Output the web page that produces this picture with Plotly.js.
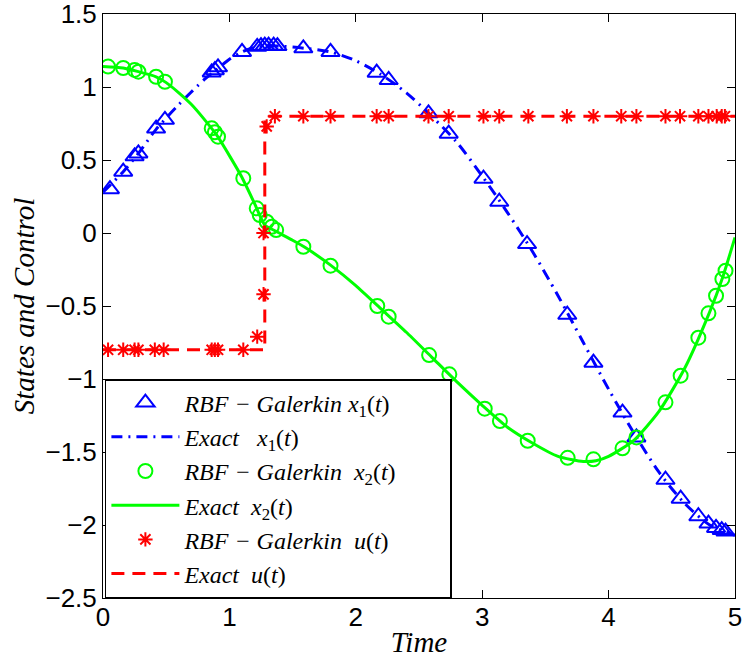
<!DOCTYPE html>
<html>
<head>
<meta charset="utf-8">
<script src="https://cdn.plot.ly/plotly-3.0.1.min.js"></script>
<style>html,body{margin:0;padding:0;background:#fff;}#chart{width:744px;height:664px;}</style>
</head>
<body>
<div id="chart"></div>
<script>
// RBF-Galerkin x1(t) samples
const tX1 = [0.055,0.16,0.25,0.28,0.42,0.49,0.86,0.885,0.91,1.10,1.22,1.25,1.28,1.31,1.35,1.38,1.585,1.80,2.165,2.26,2.575,2.735,3.01,3.135,3.355,3.673,3.88,4.11,4.22,4.45,4.57,4.71,4.79,4.85,4.895,4.925];
const vX1 = [0.30,0.42,0.525,0.545,0.715,0.775,1.10,1.115,1.135,1.24,1.275,1.28,1.283,1.283,1.283,1.28,1.265,1.24,1.098,1.048,0.82,0.68,0.372,0.214,-0.076,-0.56,-0.888,-1.23,-1.40,-1.69,-1.82,-1.94,-1.99,-2.02,-2.035,-2.045];
// Exact x1(t)
const tX1e = [0,0.16,0.28,0.42,0.6,0.8,0.9,1.0,1.1,1.2,1.3,1.4,1.6,1.8,2.0,2.2,2.4,2.6,2.8,3.0,3.2,3.4,3.6,3.8,4.0,4.2,4.4,4.6,4.8,5.0];
const vX1e = [0.28,0.42,0.545,0.71,0.88,1.05,1.12,1.19,1.24,1.27,1.28,1.28,1.265,1.24,1.18,1.085,0.96,0.8,0.62,0.39,0.14,-0.13,-0.43,-0.75,-1.07,-1.37,-1.64,-1.85,-2.0,-2.07];
// RBF-Galerkin x2(t) samples
const tX2 = [0.04,0.16,0.25,0.28,0.42,0.49,0.86,0.885,0.91,1.11,1.216,1.24,1.295,1.335,1.37,1.585,1.80,2.17,2.26,2.58,2.74,3.02,3.14,3.36,3.676,3.88,4.11,4.22,4.45,4.57,4.71,4.79,4.85,4.90,4.925];
const vX2 = [1.14,1.13,1.117,1.105,1.07,1.036,0.717,0.69,0.66,0.375,0.169,0.123,0.077,0.043,0.02,-0.094,-0.224,-0.50,-0.573,-0.836,-0.968,-1.203,-1.288,-1.423,-1.54,-1.55,-1.475,-1.40,-1.16,-0.977,-0.717,-0.55,-0.43,-0.315,-0.258];
// Exact x2(t)
const tX2e = [0,0.16,0.28,0.42,0.5,0.6,0.7,0.8,0.9,1.0,1.1,1.2,1.28,1.36,1.5,1.6,1.8,2.0,2.2,2.4,2.6,2.8,3.0,3.2,3.4,3.6,3.8,3.9,4.0,4.2,4.4,4.6,4.8,4.9,5.0];
const vX2e = [1.14,1.13,1.105,1.07,1.03,0.96,0.88,0.78,0.67,0.53,0.38,0.2,0.055,0.015,-0.05,-0.10,-0.22,-0.36,-0.52,-0.68,-0.85,-1.02,-1.18,-1.33,-1.44,-1.53,-1.565,-1.56,-1.53,-1.42,-1.22,-0.93,-0.54,-0.31,-0.03];
// RBF-Galerkin u(t) samples
const tU = [0.04,0.16,0.25,0.28,0.41,0.48,0.86,0.885,0.91,1.11,1.22,1.27,1.27,1.295,1.36,1.585,1.80,2.165,2.26,2.575,2.735,3.01,3.135,3.365,3.67,3.88,4.10,4.22,4.45,4.565,4.71,4.79,4.855,4.895,4.92];
const vU = [-0.8,-0.8,-0.8,-0.8,-0.8,-0.8,-0.8,-0.8,-0.8,-0.8,-0.71,-0.42,0.0,0.73,0.8,0.8,0.8,0.8,0.8,0.8,0.8,0.8,0.8,0.8,0.8,0.8,0.8,0.8,0.8,0.8,0.8,0.8,0.8,0.8,0.8];
// Exact u(t)
const tUe = [0,1.28,1.28,5];
const vUe = [-0.8,-0.8,0.8,0.8];

// Axis ticks
const xTicks = [0,1,2,3,4,5];
const yTicks = [1.5,1,0.5,0,-0.5,-1,-1.5,-2,-2.5];
const yTickText = ['1.5','1','0.5','0','\u22120.5','\u22121','\u22121.5','\u22122','\u22122.5'];

const nb = '\u00a0';
const legendNames = [
  '<i>RBF − Galerkin'+nb+'x</i><sub>1</sub>(<i>t</i>)'+nb.repeat(9),
  '<i>Exact'+nb.repeat(3)+'x</i><sub>1</sub>(<i>t</i>)',
  '<i>RBF − Galerkin'+nb.repeat(2)+'x</i><sub>2</sub>(<i>t</i>)',
  '<i>Exact'+nb.repeat(2)+'x</i><sub>2</sub>(<i>t</i>)',
  '<i>RBF − Galerkin'+nb.repeat(2)+'u</i>(<i>t</i>)',
  '<i>Exact'+nb.repeat(2)+'u</i>(<i>t</i>)'
];

const blue = '#0000ff', green = '#00ff00', red = '#ff0000';

const traces = [
  {x:tX1, y:vX1, mode:'markers', name:legendNames[0], legendgroup:'a',
   marker:{symbol:'triangle-up-open', size:16, color:blue, line:{width:2, color:blue}}},
  {x:tX1e, y:vX1e, mode:'lines', name:legendNames[1], legendgroup:'b',
   line:{color:blue, width:3, dash:'11px,6px,2px,6px', shape:'spline', smoothing:0.8}},
  {x:tX2, y:vX2, mode:'markers', name:legendNames[2], legendgroup:'c',
   marker:{symbol:'circle-open', size:14, color:green, line:{width:2, color:green}}},
  {x:tX2e, y:vX2e, mode:'lines', name:legendNames[3], legendgroup:'d',
   line:{color:green, width:3, shape:'spline', smoothing:0.6}},
  {x:tU, y:vU, mode:'markers', name:legendNames[4], legendgroup:'e',
   marker:{symbol:'asterisk-open', size:12, color:red, line:{width:2, color:red}}},
  {x:tUe, y:vUe, mode:'lines', name:legendNames[5], legendgroup:'f',
   line:{color:red, width:3, dash:'13px,8px'}}
];

const tickFont = {family:'Liberation Sans, Arial, sans-serif', size:26, color:'#000'};
const titleFont = {family:'Liberation Serif, Times New Roman, serif', size:29, color:'#000'};

const layout = {
  width:744, height:664,
  margin:{l:103, r:9, t:14, b:66, pad:0},
  paper_bgcolor:'#fff', plot_bgcolor:'#fff',
  showlegend:true,
  xaxis:{range:[0,5], tickmode:'array', tickvals:xTicks, ticks:'inside', ticklen:8, tickwidth:1, tickcolor:'#000',
         showline:true, linecolor:'#000', linewidth:1, mirror:'ticks', showgrid:false, zeroline:false,
         ticklabeloverflow:'allow',
         tickfont:tickFont, ticklabelstandoff:-4, title:{text:'<i>Time</i>', font:titleFont, standoff:0}},
  yaxis:{range:[-2.5,1.5], tickmode:'array', tickvals:yTicks, ticktext:yTickText, ticks:'inside', ticklen:8, tickwidth:1, tickcolor:'#000',
         showline:true, linecolor:'#000', linewidth:1, mirror:'ticks', showgrid:false, zeroline:false,
         ticklabeloverflow:'allow',
         tickfont:tickFont, title:{text:'<i>States and Control</i>', font:titleFont, standoff:2}},
  legend:{x:0.003, y:0, xanchor:'left', yanchor:'bottom', bgcolor:'#fff', bordercolor:'#000', borderwidth:1.5,
          font:{family:'Liberation Serif, Times New Roman, serif', size:24, color:'#000'},
          traceorder:'grouped', tracegroupgap:0, itemwidth:68}
};

Plotly.newPlot('chart', traces, layout, {staticPlot:true, displayModeBar:false});
</script>
</body>
</html>
